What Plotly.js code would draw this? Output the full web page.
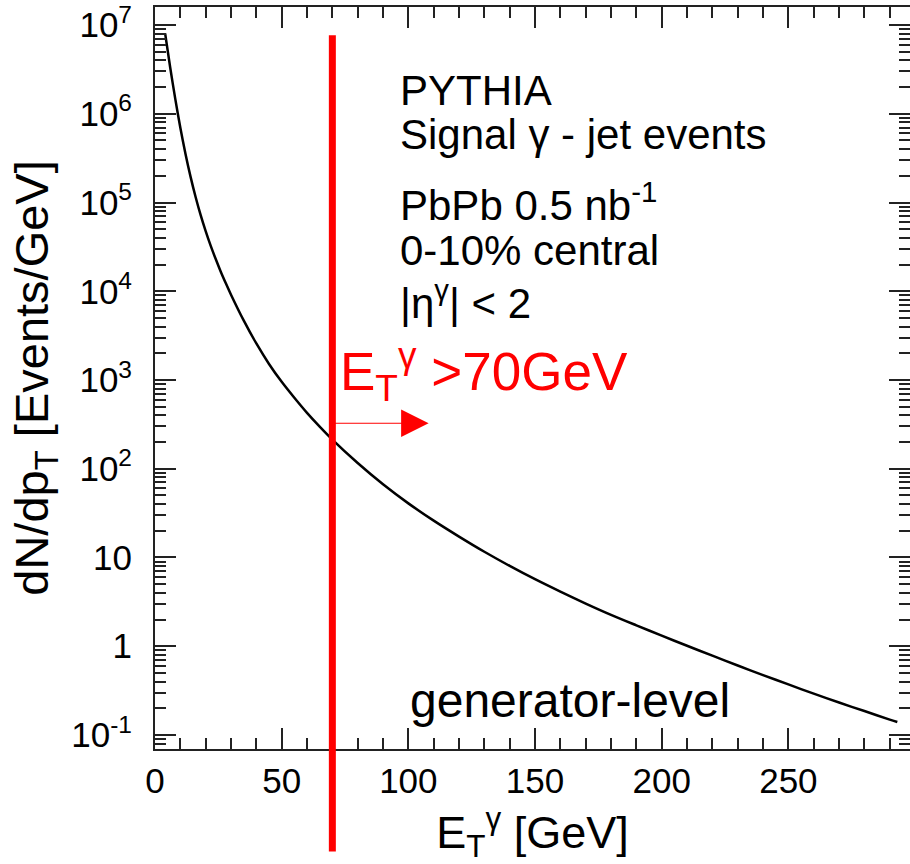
<!DOCTYPE html>
<html>
<head>
<meta charset="utf-8">
<script src="https://cdn.plot.ly/plotly-3.0.1.min.js"></script>
<style>html,body{margin:0;padding:0;background:#fff;}#chart{width:910px;height:864px;}</style>
</head>
<body>
<div id="chart"></div>
<script>
// E_T^gamma [GeV]
const etGamma = [4,6,8,10,12,14,16,18,20,22,24,26,28,30,35,40,45,50,55,60,65,70,80,90,100,110,120,130,140,150,160,170,180,190,200,210,220,230,240,250,260,270,280,290,293];
// dN/dpT [Events/GeV]
const dNdpT = [8.05e6,3.32e6,1.47e6,6.97e5,3.57e5,1.97e5,1.16e5,7.24e4,4.75e4,3.24e4,2.29e4,1.65e4,1.22e4,9140,4690,2580,1517,953,630,426,298,213,116,66.8,40.7,26.0,17.2,11.6,8.04,5.69,4.12,3.03,2.26,1.72,1.315,1.012,0.782,0.607,0.473,0.371,0.292,0.232,0.186,0.149,0.140];
// threshold cut
const cutEt = [70];
// tick labels
const xTickVals = [0,50,100,150,200,250];
const xTickText = ['0','50','100','150','200','250'];
const yTickVals = [0.1,1,10,100,1000,1e4,1e5,1e6,1e7];
const yTickText = ['10<sup>-1</sup>','1','10','10<sup>2</sup>','10<sup>3</sup>','10<sup>4</sup>','10<sup>5</sup>','10<sup>6</sup>','10<sup>7</sup>'];
const infoLines = ['PYTHIA','Signal γ - jet events','PbPb 0.5 nb<sup>-1</sup>','0-10% central','|η<sup>γ</sup>| &lt; 2'];

const FONT = 'Liberation Sans, Arial, Helvetica, sans-serif';
const axColor = '#222';

const trace = {
  x: etGamma, y: dNdpT, type: 'scatter', mode: 'lines',
  line: {color: '#000', width: 2.5, shape: 'spline', smoothing: 0.8},
  hoverinfo: 'skip', showlegend: false
};

const infoY = [0.888, 0.828, 0.737, 0.672, 0.605];
const annotations = infoLines.map((t, i) => ({
  text: t, xref: 'paper', yref: 'paper', x: 0.322, y: infoY[i],
  xanchor: 'left', yanchor: 'middle', showarrow: false,
  font: {family: FONT, size: 42, color: '#000'}
}));
annotations.push({
  text: 'generator-level', xref: 'paper', yref: 'paper', x: 0.335, y: 0.065,
  xanchor: 'left', yanchor: 'middle', showarrow: false,
  font: {family: FONT, size: 48, color: '#000'}
});
annotations.push({
  text: 'E<sub>T</sub><sup>γ</sup> &gt;70GeV', xref: 'x', yref: 'paper', x: cutEt[0], xshift: 6,
  y: 0.509, xanchor: 'left', yanchor: 'middle', showarrow: false,
  font: {family: FONT, size: 53, color: '#ff0000'}
});
annotations.push({
  text: '', xref: 'x', yref: 'paper', x: cutEt[0] + 38, y: 0.439,
  axref: 'x', ax: cutEt[0], ayref: 'pixel', ay: 0,
  showarrow: true, arrowhead: 2, arrowsize: 5.5, arrowwidth: 1, arrowcolor: '#ff0000'
});

const layout = {
  width: 910, height: 864,
  margin: {l: 155, r: 0, t: 7, b: 115},
  paper_bgcolor: '#fff', plot_bgcolor: '#fff',
  showlegend: false,
  xaxis: {
    range: [0, 298], tickmode: 'array', tickvals: xTickVals, ticktext: xTickText,
    ticks: 'inside', ticklen: 21, tickwidth: 2, tickcolor: axColor,
    minor: {ticks: 'inside', ticklen: 11, tickwidth: 2, tickcolor: axColor, dtick: 10, tick0: 0, showgrid: false},
    showline: true, linecolor: axColor, linewidth: 2, mirror: 'allticks',
    showgrid: false, zeroline: false,
    tickfont: {family: FONT, size: 35, color: '#000'}, ticklabelstandoff: 0,
    title: {text: 'E<sub>T</sub><sup>γ</sup> [GeV]', font: {family: FONT, size: 45, color: '#000'}, standoff: 4}
  },
  yaxis: {
    type: 'log', range: [-1.158, 7.203], tickmode: 'array', tickvals: yTickVals, ticktext: yTickText,
    ticks: 'inside', ticklen: 21, tickwidth: 2, tickcolor: axColor,
    minor: {ticks: 'inside', ticklen: 11, tickwidth: 2, tickcolor: axColor, dtick: 'D1', showgrid: false},
    showline: true, linecolor: axColor, linewidth: 2, mirror: 'allticks',
    showgrid: false, zeroline: false,
    tickfont: {family: FONT, size: 35, color: '#000'}, ticklabelstandoff: 14,
    title: {text: 'dN/dp<sub>T</sub> [Events/GeV]', font: {family: FONT, size: 47, color: '#000'}, standoff: 8}
  },
  shapes: [{
    type: 'line', xref: 'x', yref: 'paper', x0: cutEt[0], x1: cutEt[0], y0: -0.138, y1: 0.962,
    line: {color: '#ff0000', width: 7}, layer: 'above'
  }],
  annotations: annotations
};

Plotly.newPlot('chart', [trace], layout, {displayModeBar: false, staticPlot: true});
</script>
</body>
</html>
